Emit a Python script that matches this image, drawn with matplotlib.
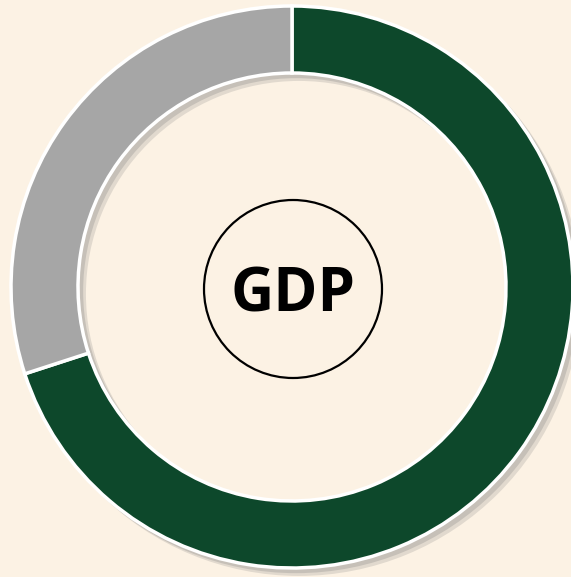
import matplotlib
matplotlib.use("Agg")
from matplotlib import pyplot as plt
from matplotlib import patheffects
from matplotlib.patches import Circle, Wedge

# Share of GDP (two segments, green first, clockwise from 12 o'clock)
labels = ["Green", "Grey"]
shares = [70, 30]
colors = ["#0d482b", "#a6a6a6"]
center_label = "GDP"

bg = "#fcf2e4"

fig = plt.figure(figsize=(5.71, 5.77), dpi=100, facecolor=bg)
ax = fig.add_axes([0, 0, 1, 1])
ax.set_facecolor(bg)

cx, cy = 292, 290
r_out = 281
width = 67

# soft drop shadow of the whole ring towards the lower right (shadow only)
ring = Wedge((cx, cy), r_out + 1, 0, 360, width=width + 2, facecolor="k", edgecolor="none")
ring.set_path_effects([
    patheffects.SimplePatchShadow(offset=(5, -5), shadow_rgbFace="#777777", alpha=0.2),
    patheffects.SimplePatchShadow(offset=(3, -3), shadow_rgbFace="#777777", alpha=0.25),
])
ax.add_patch(ring)

wedges, _ = ax.pie(
    shares,
    colors=colors,
    startangle=90,
    counterclock=False,
    center=(cx, cy),
    radius=r_out,
    frame=True,
    wedgeprops=dict(width=width, edgecolor="white", linewidth=2.5),
)
ax.set_xlim(0, 571)
ax.set_ylim(0, 577)
ax.set_aspect("equal")
ax.axis("off")

# small circle in the middle with the label
ax.add_patch(Circle((cx + 1, cy - 2), 89, facecolor="none", edgecolor="black", linewidth=1.6))
ax.text(cx + 1, 577 - 312, center_label, ha="center", va="baseline",
        fontsize=43, fontweight="bold", family="Open Sans", color="black")

plt.savefig("out.png", dpi=100, facecolor=bg)
